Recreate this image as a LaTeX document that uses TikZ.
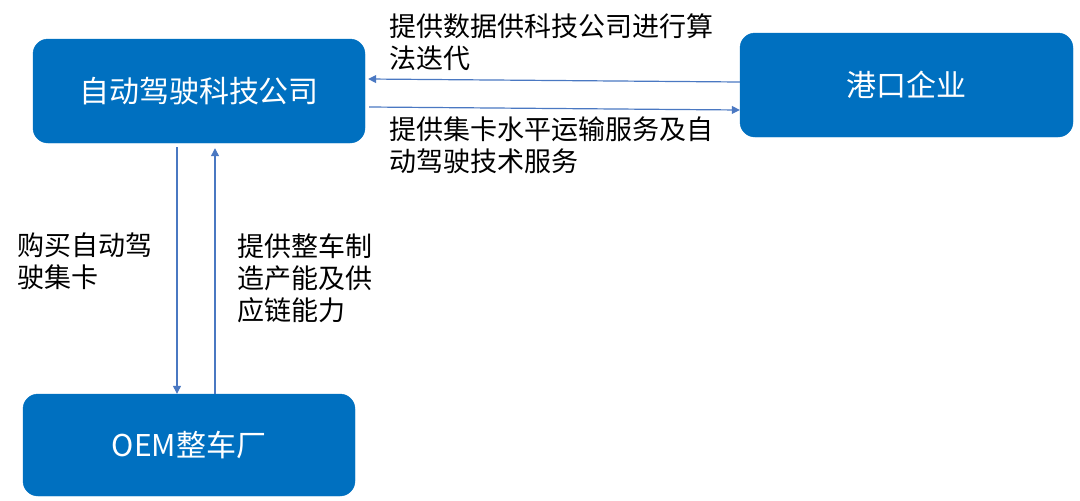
\documentclass[tikz,border=0pt]{standalone}
\usepackage{fontspec}
\usepackage{xcolor}
\usetikzlibrary{arrows.meta, positioning}
\newfontfamily\cjk{Noto Sans CJK SC}
\definecolor{boxblue}{HTML}{0070C0}
\definecolor{linkblue}{HTML}{4A78C2}

\begin{document}
\begin{tikzpicture}[x=1pt, y=-1pt,
  party/.style={draw=boxblue, fill=boxblue, rounded corners=15pt, text=white, font=\cjk\fontsize{30}{34}\selectfont, align=center},
  note/.style={inner sep=0pt, anchor=north west, align=left, font=\cjk\fontsize{27}{32}\selectfont},
  link/.style={draw=linkblue, line width=1.2pt, -{Triangle[length=8pt, width=8pt]}}
]
\useasboundingbox (0,0) rectangle (1080,501);
\node[party, minimum width=332pt, minimum height=104pt] (firm) at (199,91) {自动驾驶科技公司};
\node[party, minimum width=333pt, minimum height=104pt] (port) at (906.5,85) {港口企业};
\node[party, minimum width=332pt, minimum height=102pt] (oem) at (189,445) {OEM整车厂};
% flows between the company and the port
\draw[link] ([yshift=3pt]port.west) -- ([xshift=3pt,yshift=12pt]firm.east);
\draw[link] ([xshift=4pt,yshift=-16pt]firm.east) -- ([yshift=-25pt]port.west);
% flows between the company and the OEM
\draw[link] ([xshift=-22pt,yshift=-4pt]firm.south) -- ([xshift=-12pt]oem.north);
\draw[link] ([xshift=26pt]oem.north) -- ([xshift=16pt,yshift=-5pt]firm.south);
% labels
\node[note] (datanote) at (389,13) {提供数据供科技公司进行算\\法迭代};
\node[note] (servnote) at (389,117) {提供集卡水平运输服务及自\\动驾驶技术服务};
\node[note] (buynote) at (17,233) {购买自动驾\\驶集卡};
\node[note] (makenote) at (237,233) {提供整车制\\造产能及供\\应链能力};
\end{tikzpicture}
\end{document}
